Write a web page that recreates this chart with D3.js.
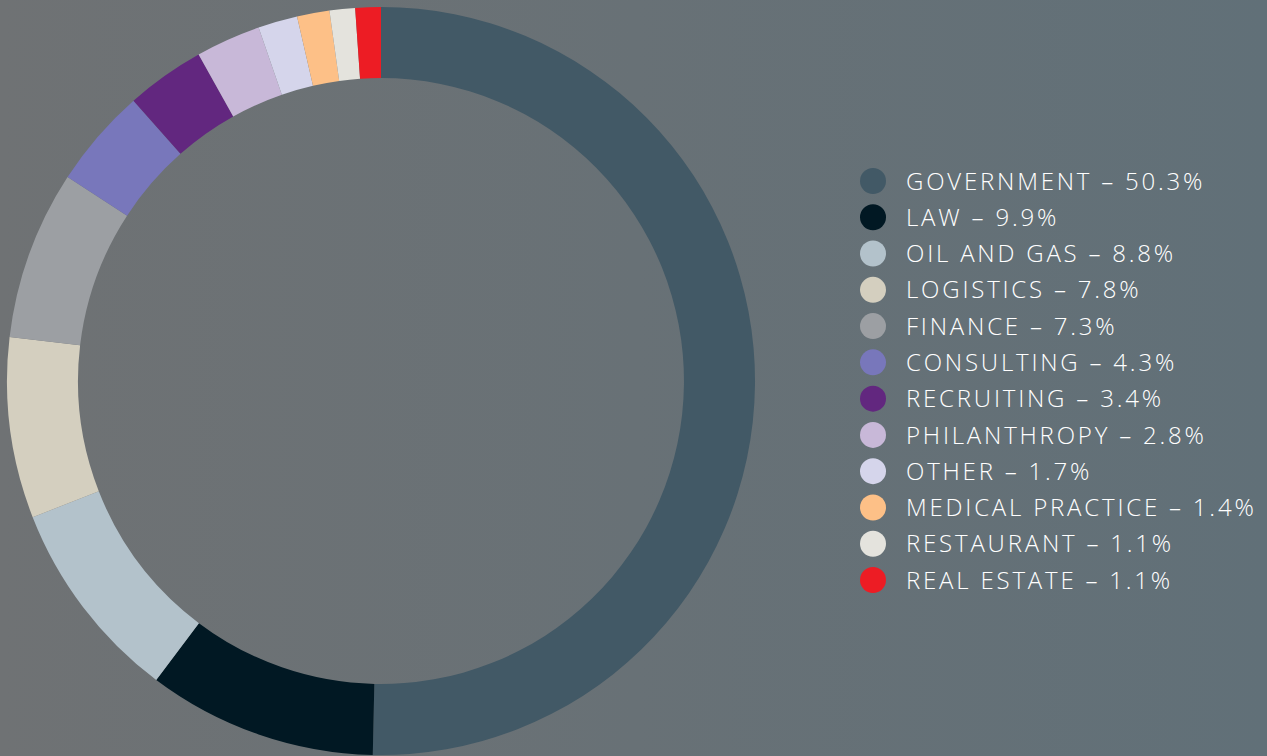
<!DOCTYPE html>
<html>
<head>
<meta charset="utf-8">
<script src="https://cdn.jsdelivr.net/npm/d3@7.9.0/dist/d3.min.js"></script>
<style>
  html, body { margin: 0; padding: 0; overflow: hidden; }
  body { width: 1267px; height: 756px; }
</style>
</head>
<body>
<svg id="chart"></svg>
<script>
// data
const sectors = ["GOVERNMENT", "LAW", "OIL AND GAS", "LOGISTICS", "FINANCE", "CONSULTING",
  "RECRUITING", "PHILANTHROPY", "OTHER", "MEDICAL PRACTICE", "RESTAURANT", "REAL ESTATE"];
const shares = [50.3, 9.9, 8.8, 7.8, 7.3, 4.3, 3.4, 2.8, 1.7, 1.4, 1.1, 1.1];
const sectorColors = ["#425966", "#011823", "#b3c2cb", "#d4cfbf", "#9c9fa3", "#7877bb",
  "#62277f", "#c8b8d8", "#d5d5eb", "#fdc087", "#e4e3dd", "#ed1c24"];

const W = 1267, H = 756;
const cx = 381, cy = 381;
const outerR = 374, innerR = 303;

const svg = d3.select("#chart")
    .attr("width", W)
    .attr("height", H);

// background goes slightly bluer towards the right
const grad = svg.append("defs").append("linearGradient")
    .attr("id", "bg")
    .attr("x1", 0).attr("x2", 1).attr("y1", 0).attr("y2", 0);
grad.append("stop").attr("offset", "0%").attr("stop-color", "#6f7274");
grad.append("stop").attr("offset", "100%").attr("stop-color", "#617078");

svg.append("rect")
    .attr("width", W)
    .attr("height", H)
    .attr("fill", "url(#bg)");

const color = d3.scaleOrdinal().domain(sectors).range(sectorColors);

const rows = sectors.map((s, i) => ({ name: s, value: shares[i] }));

const pie = d3.pie().sort(null).value(d => d.value);
const arc = d3.arc().innerRadius(innerR).outerRadius(outerR);

svg.append("g")
    .attr("transform", `translate(${cx},${cy})`)
    .selectAll("path")
    .data(pie(rows))
    .join("path")
    .attr("d", arc)
    .attr("fill", d => color(d.data.name));

// legend
const y = d3.scalePoint().domain(sectors).range([181, 580]);

const legend = svg.append("g");

legend.selectAll("circle")
    .data(rows)
    .join("circle")
    .attr("cx", 873)
    .attr("cy", d => y(d.name))
    .attr("r", 13)
    .attr("fill", d => color(d.name));

legend.selectAll("text")
    .data(rows)
    .join("text")
    .attr("x", 906)
    .attr("y", d => y(d.name))
    .attr("dy", "0.36em")
    .attr("fill", "#ffffff")
    .style("font-family", "'Open Sans', 'DejaVu Sans', sans-serif")
    .style("font-weight", 300)
    .style("font-size", "24px")
    .style("letter-spacing", "2.8px")
    .text(d => `${d.name} \u2013 ${d.value.toFixed(1)}%`);
</script>
</body>
</html>
